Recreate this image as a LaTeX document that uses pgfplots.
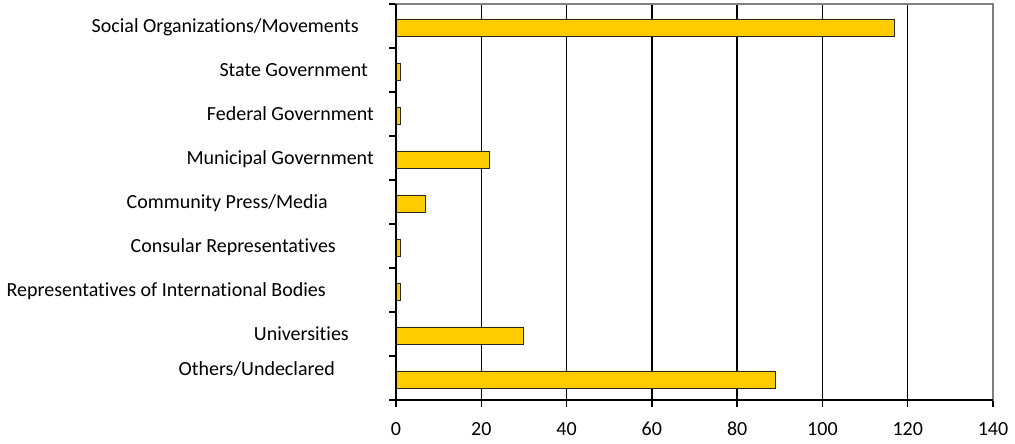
\documentclass[border=0pt]{standalone}
\usepackage{fontspec}
\setmainfont[Ligatures={NoCommon}]{Carlito}
\usepackage{pgfplots}
\pgfplotsset{compat=1.18}
\definecolor{barY}{HTML}{FFCC00}
\begin{document}
\begin{tikzpicture}
\begin{axis}[
  scale only axis, width=597pt, height=396pt,
  xmin=0, xmax=140, ymin=-0.5, ymax=8.5,
  xtick={0,20,...,140},
  ytick={-0.5,0.5,...,8.5}, yticklabels={},
  xtick pos=bottom, ytick pos=left,
  tick align=outside, major tick length=7pt,
  tick style={black, line width=1.4pt},
  xmajorgrids, grid style={black, line width=1.4pt},
  axis line style={gray, line width=1.4pt},
  /pgf/number format/assume math mode=true,
  xticklabel style={font=\fontsize{20}{22}\selectfont, inner sep=0pt, anchor=north, text height=13pt, text depth=0pt, yshift=-15pt},
  clip=false,
]
\addplot[xbar, bar width=17pt, bar shift=-1.5pt, fill=barY, draw=black!85, line width=0.9pt]
  coordinates {(89,0) (30,1) (1,2) (1,3) (7,4) (22,5) (1,6) (1,7) (117,8)};
\draw[gray, line width=1.4pt] (rel axis cs:1,0) -- (rel axis cs:1,1);
\draw[black, line width=1.4pt] (rel axis cs:0,1) -- (rel axis cs:0,0) -- (rel axis cs:1,0);
\begin{scope}[every node/.style={anchor=base east, inner sep=0pt, font=\fontsize{20}{22}\selectfont}]
\node[xshift=-37pt, yshift=-7pt] at (axis cs:0,8) {Social Organizations/Movements};
\node[xshift=-28pt, yshift=-7pt] at (axis cs:0,7) {State Government};
\node[xshift=-22pt, yshift=-7pt] at (axis cs:0,6) {Federal Government};
\node[xshift=-22pt, yshift=-7pt] at (axis cs:0,5) {Municipal Government};
\node[xshift=-68pt, yshift=-7pt] at (axis cs:0,4) {Community Press/Media};
\node[xshift=-60pt, yshift=-7pt] at (axis cs:0,3) {Consular Representatives};
\node[xshift=-70pt, yshift=-7pt] at (axis cs:0,2) {Representatives of International Bodies};
\node[xshift=-47pt, yshift=-7pt] at (axis cs:0,1) {Universities};
\node[xshift=-61pt, yshift=2pt] at (axis cs:0,0) {Others/Undeclared};
\end{scope}
\end{axis}
\pgfresetboundingbox
\path ([shift={(-396pt,-44pt)}]current axis.south west) rectangle ([shift={(22pt,4pt)}]current axis.north east);
\end{tikzpicture}
\end{document}
